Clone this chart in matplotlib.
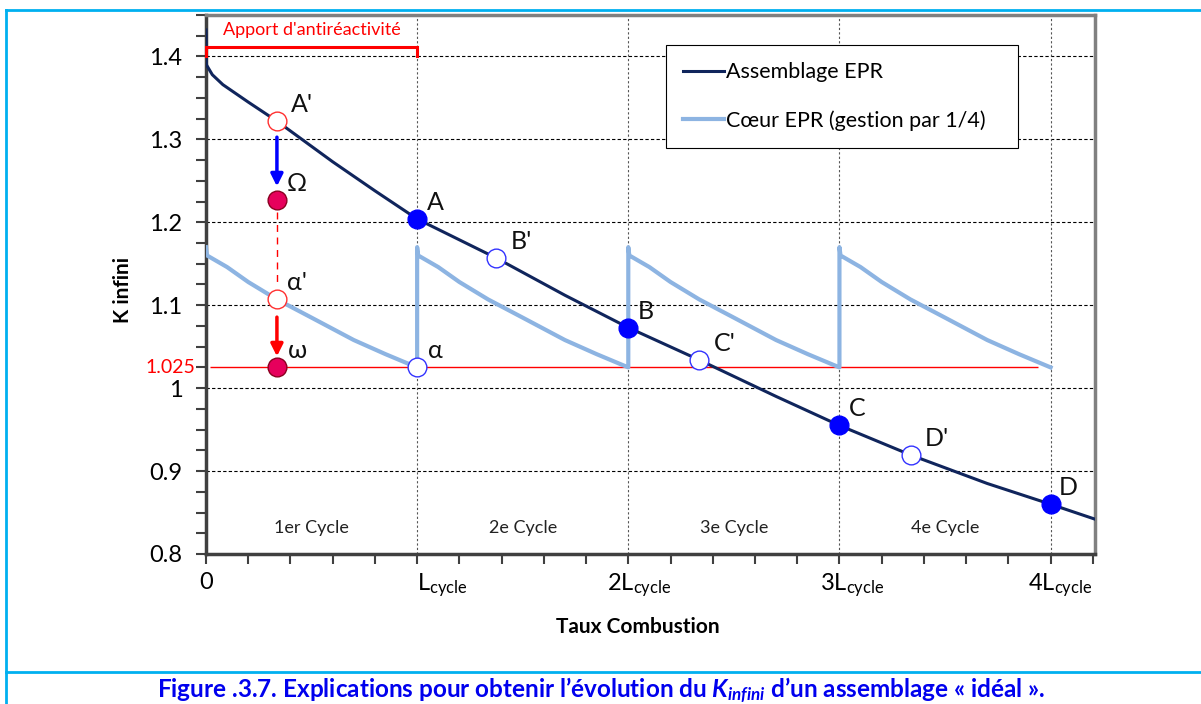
import matplotlib
matplotlib.use("Agg")
import matplotlib.pyplot as plt
from matplotlib.lines import Line2D
from matplotlib.transforms import blended_transform_factory, offset_copy
from matplotlib.ticker import MultipleLocator

plt.rcParams['font.family'] = ['Lato', 'DejaVu Sans']
plt.rcParams['mathtext.fontset'] = 'custom'
plt.rcParams['mathtext.rm'] = 'Lato'
plt.rcParams['mathtext.it'] = 'Lato:italic:bold'

# Assemblage EPR (k-infini vs burnup, in units of L_cycle)
assemb_x = [0.0, 0.002, 0.03, 0.08, 0.2, 0.336, 0.6, 0.8, 1.0, 1.374, 1.7, 2.0,
            2.336, 2.7, 3.0, 3.341, 3.7, 4.0, 4.21]
assemb_k = [1.432, 1.39, 1.378, 1.366, 1.345, 1.322, 1.273, 1.238, 1.204, 1.157, 1.112, 1.073,
            1.034, 0.99, 0.955, 0.919, 0.885, 0.860, 0.842]

# Coeur EPR (gestion par 1/4), sawtooth
coeur_x = [0.0, 0.005, 0.1, 0.2, 0.336, 0.5, 0.7, 0.85, 1.0,
           1.0, 1.005, 1.1, 1.2, 1.336, 1.5, 1.7, 1.85, 2.0,
           2.0, 2.005, 2.1, 2.2, 2.336, 2.5, 2.7, 2.85, 3.0,
           3.0, 3.005, 3.1, 3.2, 3.336, 3.5, 3.7, 3.85, 4.0]
coeur_k = [1.17, 1.16, 1.146, 1.128, 1.107, 1.085, 1.058, 1.041, 1.025,
           1.17, 1.16, 1.146, 1.128, 1.107, 1.085, 1.058, 1.041, 1.025,
           1.17, 1.16, 1.146, 1.128, 1.107, 1.085, 1.058, 1.041, 1.025,
           1.17, 1.16, 1.146, 1.128, 1.107, 1.085, 1.058, 1.041, 1.025]

# points
filled_names = ["A", "B", "C", "D"]
filled_x = [1.0, 2.0, 3.0, 4.0]
filled_k = [1.204, 1.073, 0.955, 0.860]
hollow_names = ["B'", "C'", "D'", "α"]
hollow_x = [1.374, 2.336, 3.341, 1.0]
hollow_k = [1.157, 1.034, 0.919, 1.025]
red_hollow_names = ["A'", "α'"]
red_hollow_x = [0.336, 0.336]
red_hollow_k = [1.322, 1.107]
pink_names = ["Ω", "ω"]
pink_x = [0.336, 0.336]
pink_k = [1.227, 1.025]

k_target = 1.025
cycle_labels = ["1er Cycle", "2e Cycle", "3e Cycle", "4e Cycle"]
x_ticks = [0, 1, 2, 3, 4]
x_tick_labels = ["0", r"L$_\mathregular{cycle}$", r"2L$_\mathregular{cycle}$",
                 r"3L$_\mathregular{cycle}$", r"4L$_\mathregular{cycle}$"]
y_ticks = [0.8, 0.9, 1.0, 1.1, 1.2, 1.3, 1.4]
y_tick_labels = ["0.8", "0.9", "1", "1.1", "1.2", "1.3", "1.4"]

navy = "#10255C"
light = "#8DB4E2"

fig = plt.figure(figsize=(12.01, 7.04), dpi=100)
ax = fig.add_axes([0.1715, 0.2131, 0.7402, 0.7656])

ax.set_xlim(0, 4.21)
ax.set_ylim(0.8, 1.45)

# grid
for y in y_ticks[1:]:
    ax.axhline(y, color="black", lw=0.8, ls=(0, (3, 2)), zorder=1)
for x in x_ticks[1:]:
    ax.axvline(x, color="#555555", lw=0.8, ls=(0, (2, 2)), zorder=1)

ax.hlines(k_target, 0.02, 3.94, color="red", lw=1.0, zorder=2)

l1, = ax.plot(assemb_x, assemb_k, color=navy, lw=2.2, label="Assemblage EPR", zorder=4)
l2, = ax.plot(coeur_x, coeur_k, color=light, lw=3.0, label="Cœur EPR (gestion par 1/4)", zorder=3)

ms = 13.5
ax.plot(filled_x, filled_k, "o", ms=ms, color="#0000FF", mec="#0000FF", zorder=6, clip_on=False)
ax.plot(hollow_x, hollow_k, "o", ms=ms, mfc="white", mec="#3333FF", mew=1.0, zorder=6)
ax.plot(red_hollow_x, red_hollow_k, "o", ms=ms, mfc="white", mec="#FF3030", mew=1.0, zorder=6)
ax.plot(pink_x, pink_k, "o", ms=ms, mfc="#E6005C", mec="#8B0020", mew=1.0, zorder=6)

# arrows and dashed link
ax.annotate("", xy=(red_hollow_x[0], 1.240), xytext=(red_hollow_x[0], 1.306),
            arrowprops=dict(arrowstyle="-|>", color="#0000FF", lw=2.5, mutation_scale=18), zorder=5)
ax.annotate("", xy=(red_hollow_x[1], 1.035), xytext=(red_hollow_x[1], 1.089),
            arrowprops=dict(arrowstyle="-|>", color="#FF0000", lw=2.5, mutation_scale=18), zorder=5)
ax.plot([pink_x[0], pink_x[0]], [1.212, 1.123], color="red", lw=1.0, ls=(0, (5, 4)), zorder=2)

# point labels
lab_dx = 0.085
lab_dy = 0.02
for n, x, y in zip(filled_names + hollow_names + red_hollow_names + pink_names,
                   filled_x + hollow_x + red_hollow_x + pink_x,
                   filled_k + hollow_k + red_hollow_k + pink_k):
    dx = 0.12 if "'" in n else lab_dx
    if n in ("Ω", "ω", "α'"):
        dx = 0.095
    ax.text(x + dx, y + lab_dy, n, fontsize=18, ha="center", va="center", color="#111111", zorder=7)

# cycle labels
for i, lbl in enumerate(cycle_labels):
    ax.text(x_ticks[i] + 0.5, 0.831, lbl, fontsize=13, ha="center", va="center", color="#222222")

# bracket
ax.plot([0, 0, 1, 1], [1.401, 1.411, 1.411, 1.401], color="red", lw=2.2, clip_on=False, zorder=5,
        solid_joinstyle="miter")
ax.text(0.5, 1.432, "Apport d'antiréactivité", color="red", fontsize=13, ha="center", va="center")

# axes style
ax.set_yticks(y_ticks)
ax.set_yticklabels(y_tick_labels, fontsize=17)
ax.yaxis.set_minor_locator(MultipleLocator(0.025))
ax.set_xticks(x_ticks)
ax.set_xticklabels([])
ax.xaxis.set_minor_locator(MultipleLocator(0.2))
ax.tick_params(axis="both", which="both", direction="out", length=7, width=1.5, color="#404040")
ax.tick_params(axis="y", pad=10)
for s in ["left", "bottom"]:
    ax.spines[s].set_linewidth(2.5)
    ax.spines[s].set_color("#404040")
for s in ["top", "right"]:
    ax.spines[s].set_linewidth(2.5)
    ax.spines[s].set_color("#808080")

# x tick labels as texts
tr = blended_transform_factory(ax.transData, ax.transAxes)
offsets = [0, 0, -21, -19, -23]
for i, (x, lbl) in enumerate(zip(x_ticks, x_tick_labels)):
    ha = "center" if i == 0 else "left"
    ax.text(x, -0.034, lbl, fontsize=17, ha=ha, va="top",
            transform=offset_copy(tr, fig=fig, x=offsets[i], y=0, units="dots"))

ax.text(-0.012, k_target, "1.025", color="red", fontsize=14, ha="right", va="center",
        transform=blended_transform_factory(ax.transAxes, ax.transData))

ax.set_xlabel("Taux Combustion", fontsize=15, fontweight="bold")
ax.xaxis.set_label_coords(0.486, -0.117)
ax.set_ylabel("K infini", fontsize=15, fontweight="bold")
ax.yaxis.set_label_coords(-0.082, 0.49)

leg = ax.legend(handles=[l1, l2], loc="upper left", bbox_to_anchor=(0.517, 0.0, 0.397, 0.944),
                mode="expand", borderaxespad=0, fontsize=15.5, handlelength=1.9, handletextpad=0.1,
                labelspacing=1.3, borderpad=0.8, fancybox=False, framealpha=1,
                edgecolor="black")
leg.get_frame().set_linewidth(0.8)

# outer frame and caption
cyan = "#00B0F0"
fig.add_artist(Line2D([5.5 / 1201, 5.5 / 1201], [0, 1 - 10 / 704], color=cyan, lw=2))
fig.add_artist(Line2D([5.5 / 1201, 1], [1 - 10 / 704, 1 - 10 / 704], color=cyan, lw=2))
fig.add_artist(Line2D([5.5 / 1201, 1], [1 - 672 / 704, 1 - 672 / 704], color=cyan, lw=2))
fig.text(601 / 1201, 1 - 690 / 704,
         "Figure .3.7. Explications pour obtenir l’évolution du $K_{infini}$ d’un assemblage « idéal ».",
         color="#0000EE", fontsize=17.5, fontweight="bold", ha="center", va="center")

fig.savefig("out.png", dpi=100)
